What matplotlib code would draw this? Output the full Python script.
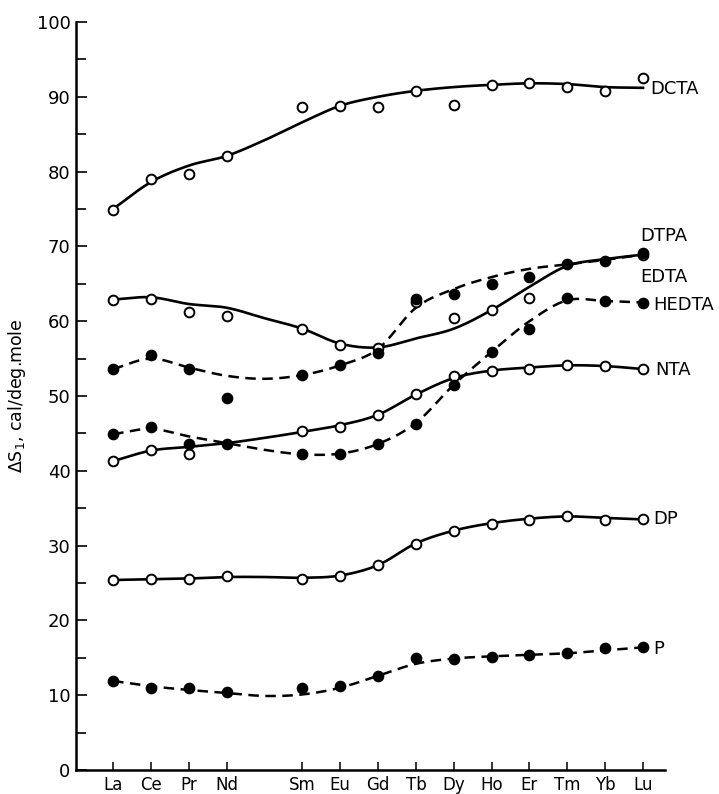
import matplotlib.pyplot as plt
import numpy as np

# lanthanides on the x axis (Pm has no data, so it leaves a gap)
elements = ['La', 'Ce', 'Pr', 'Nd', 'Sm', 'Eu', 'Gd', 'Tb', 'Dy', 'Ho', 'Er', 'Tm', 'Yb', 'Lu']
z = [57, 58, 59, 60, 62, 63, 64, 65, 66, 67, 68, 69, 70, 71]
z_fit = list(range(57, 72))   # smooth curves are drawn through Pm as well

nan = np.nan

dcta = [74.9, 79.0, 79.7, 82.1, 88.6, 88.8, 88.6, 90.8, 88.9, 91.6, 91.8, 91.3, 90.8, 92.5]
edta = [62.8, 63.0, 61.2, 60.7, 59.0, 56.8, 56.4, 62.6, 60.4, 61.5, 63.1, nan, nan, 68.8]
dtpa = [53.6, 55.5, 53.6, 49.7, 52.8, 54.1, 55.8, 63.0, 63.7, 65.0, 65.9, 67.6, 68.1, 69.1]
hedta = [44.9, 45.9, 43.6, 43.6, 42.2, 42.2, 43.6, 46.3, 51.5, 55.9, 59.0, 63.1, 62.7, 62.5]
nta = [41.3, 42.8, 42.2, nan, 45.3, 45.9, 47.5, 50.3, 52.7, 53.4, 53.6, 54.1, 54.0, 53.6]
dp = [25.4, 25.5, 25.5, 26.0, 25.5, 25.9, 27.4, 30.2, 32.0, 32.9, 33.4, 34.0, 33.4, 33.6]
p = [11.9, 10.9, 11.0, 10.4, 10.9, 11.2, 12.6, 15.0, 14.9, 15.1, 15.4, 15.7, 16.3, 16.4]

# hand drawn curves, read at every element position La..Lu (with Pm)
dcta_fit = [75.0, 78.6, 80.8, 82.1, 84.2, 86.6, 88.8, 90.0, 90.8, 91.3, 91.6, 91.8, 91.7, 91.3, 91.2]
edta_fit = [62.9, 63.2, 62.3, 61.8, 60.4, 59.0, 57.0, 56.5, 57.7, 59.0, 61.5, 64.6, 67.4, 68.3, 68.9]
dtpa_fit = [53.6, 55.0, 53.8, 52.7, 52.3, 52.8, 54.1, 56.3, 61.8, 64.3, 65.9, 67.0, 67.6, 68.2, 68.9]
hedta_fit = [44.9, 45.6, 44.6, 43.7, 42.8, 42.2, 42.3, 43.6, 46.4, 51.5, 55.9, 60.0, 62.8, 62.7, 62.5]
nta_fit = [41.3, 42.7, 43.2, 43.7, 44.4, 45.2, 46.1, 47.5, 50.2, 52.4, 53.4, 53.8, 54.1, 54.0, 53.6]
dp_fit = [25.4, 25.5, 25.6, 25.8, 25.8, 25.7, 26.0, 27.4, 30.3, 32.0, 33.0, 33.6, 33.9, 33.7, 33.5]
p_fit = [11.9, 11.2, 10.7, 10.3, 9.9, 10.1, 11.0, 12.6, 14.2, 14.9, 15.2, 15.4, 15.6, 16.0, 16.4]

labels = ['DCTA', 'DTPA', 'EDTA', 'HEDTA', 'NTA', 'DP', 'P']
label_x = [71.18, 70.92, 70.92, 71.28, 71.32, 71.26, 71.26]
label_y = [91.0, 71.4, 65.9, 62.2, 53.5, 33.6, 16.2]


def smooth(xs, ys, n=24):
    # catmull-rom through the curve knots
    xs = np.asarray(xs, float)
    ys = np.asarray(ys, float)
    px = np.concatenate([[2 * xs[0] - xs[1]], xs, [2 * xs[-1] - xs[-2]]])
    py = np.concatenate([[2 * ys[0] - ys[1]], ys, [2 * ys[-1] - ys[-2]]])
    t = np.linspace(0, 1, n, endpoint=False)
    outx, outy = [], []
    for i in range(1, len(px) - 2):
        for arr, out in ((px, outx), (py, outy)):
            p0, p1, p2, p3 = arr[i - 1:i + 3]
            seg = 0.5 * (2 * p1 + (-p0 + p2) * t + (2 * p0 - 5 * p1 + 4 * p2 - p3) * t ** 2
                         + (-p0 + 3 * p1 - 3 * p2 + p3) * t ** 3)
            out.append(seg)
    return np.concatenate(outx + [[xs[-1]]]), np.concatenate(outy + [[ys[-1]]])


series = [
    (dcta, dcta_fit, False, False),
    (edta, edta_fit, False, False),
    (nta, nta_fit, False, False),
    (dp, dp_fit, False, False),
    (dtpa, dtpa_fit, True, True),
    (hedta, hedta_fit, True, True),
    (p, p_fit, True, True),
]

plt.rcParams['font.family'] = ['DejaVu Sans']
fig = plt.figure(figsize=(7.19, 7.94), dpi=100)
ax = fig.add_axes([76 / 719, 1 - 770 / 794, 589 / 719, 748 / 794])

for pts, fit, filled, dashed in series:
    cx, cy = smooth(z_fit, fit)
    if dashed:
        ax.plot(cx, cy, color='black', lw=1.8, dashes=(4.2, 2.6), zorder=2)
    else:
        ax.plot(cx, cy, color='black', lw=1.9, zorder=2)
    ax.plot(z, pts, ls='none', marker='o', ms=7.0, mew=1.4, mec='black',
            mfc='black' if filled else 'white', zorder=4 if filled else 3)

for txt, lx, ly in zip(labels, label_x, label_y):
    ax.text(lx, ly, txt, fontsize=13, ha='left', va='center', clip_on=False)

ax.set_xlim(56.02, 71.58)
ax.set_ylim(0, 100)
ax.set_xticks(z)
ax.set_xticklabels(elements, fontsize=12)
ax.set_yticks(np.arange(0, 101, 10))
ax.set_yticks(np.arange(5, 100, 10), minor=True)
ax.tick_params(axis='y', which='major', direction='in', length=8, width=1.2, labelsize=13, pad=4)
ax.tick_params(axis='y', which='minor', direction='in', length=7, width=1.2)
ax.tick_params(axis='x', direction='in', length=6, width=1.1, pad=4)
for s in ['top', 'right']:
    ax.spines[s].set_visible(False)
for s in ['left', 'bottom']:
    ax.spines[s].set_linewidth(1.8)

ax.set_ylabel('ΔS$_1$, cal/deg.mole', fontsize=12.5, labelpad=6)

fig.savefig('out.png', dpi=100)
